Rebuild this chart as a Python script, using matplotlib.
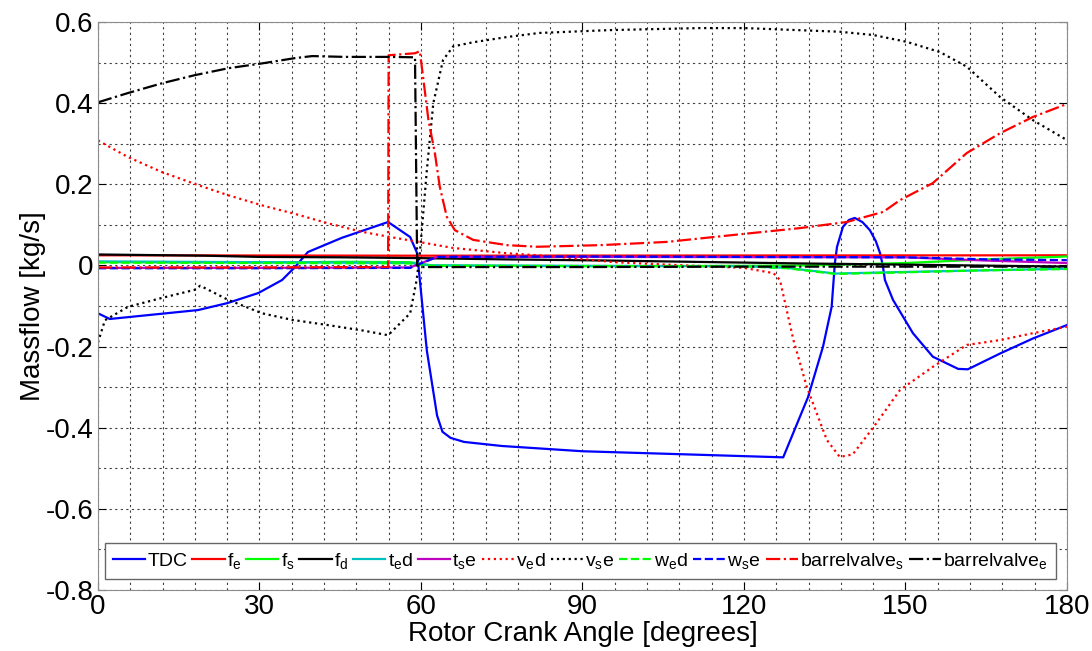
import numpy as np
import matplotlib
matplotlib.use("Agg")
import matplotlib.pyplot as plt
from matplotlib.ticker import MultipleLocator, FuncFormatter

plt.rcParams['font.family'] = ['Liberation Sans', 'DejaVu Sans']
plt.rcParams['mathtext.fontset'] = 'custom'
plt.rcParams['mathtext.rm'] = 'Liberation Sans'
plt.rcParams['mathtext.default'] = 'regular'

# --- data (crank angle in degrees, massflow in kg/s) ---
tdc_x = [0, 2.2, 18.6, 24, 29.8, 34.2, 36.6, 39, 45.3, 53.9, 58, 59.3, 61.1, 63.0, 64.0,
         65.5, 68, 75, 90, 110, 127.3, 131.9, 134.7, 136.3, 136.9, 137.3, 138.4, 139.5,
         140.6, 142, 143.4, 144.5, 145.3, 145.8, 146.2, 147.7, 151.4, 155.1, 159.8, 161.6,
         167.6, 173.7, 180]
tdc_y = [-0.118, -0.132, -0.11, -0.093, -0.068, -0.036, -0.004, 0.033, 0.068, 0.107, 0.07,
         0.03, -0.21, -0.37, -0.41, -0.425, -0.435, -0.445, -0.458, -0.466, -0.473, -0.325,
         -0.2, -0.102, 0.006, 0.046, 0.095, 0.112, 0.117, 0.107, 0.087, 0.06, 0.03, 0.0,
         -0.036, -0.085, -0.167, -0.225, -0.255, -0.256, -0.217, -0.18, -0.147]

fe_x = [0, 60, 180]
fe_y = [0.025, 0.024, 0.025]

fs_x = [0, 30, 46, 58, 62, 90, 120, 132, 150, 165, 180]
fs_y = [0.008, 0.007, 0.009, 0.008, 0.0, -0.002, -0.001, 0.0, 0.006, 0.015, 0.022]

fd_x = [0, 20, 30, 45, 60, 75, 95, 110, 130, 150, 180]
fd_y = [0.027, 0.024, 0.021, 0.02, 0.018, 0.015, 0.012, 0.009, 0.005, 0.002, -0.003]

ted_x = [0, 30, 58, 62, 120, 128, 137, 150, 165, 180]
ted_y = [0.01, 0.008, 0.006, 0.0, -0.002, -0.006, -0.02, -0.016, -0.012, -0.008]

tse_x = [0, 30, 58, 63, 90, 150, 165, 180]
tse_y = [-0.006, -0.006, -0.005, 0.021, 0.021, 0.02, 0.012, 0.006]

ved_x = [0, 5.6, 11.9, 18.6, 24.2, 30.5, 36.6, 42.7, 49, 53.9, 61.3, 66, 76, 85, 96, 109,
         120, 125.5, 126.7, 129.2, 131.7, 135.4, 137.8, 140.2, 144, 149, 155.1, 161.4,
         167.6, 173.7, 180]
ved_y = [0.308, 0.267, 0.23, 0.198, 0.173, 0.148, 0.127, 0.104, 0.083, 0.071, 0.054, 0.043,
         0.03, 0.022, 0.008, 0.0, -0.006, -0.019, -0.036, -0.184, -0.3, -0.43, -0.472,
         -0.466, -0.4, -0.307, -0.25, -0.196, -0.184, -0.167, -0.151]

vse_x = [0, 1.3, 5.6, 11.9, 18, 19, 24.2, 30.5, 36, 42.7, 49, 53.9, 58, 59.2, 59.8, 61.1,
         62.3, 64.1, 66, 69.7, 76, 82, 95, 111.8, 120.2, 137.8, 144, 150.3, 156.4, 161.4,
         167.6, 173.7, 180]
vse_y = [-0.19, -0.135, -0.102, -0.08, -0.06, -0.05, -0.085, -0.118, -0.134, -0.147, -0.16,
         -0.172, -0.118, -0.036, 0.03, 0.235, 0.4, 0.506, 0.54, 0.55, 0.563, 0.573, 0.58,
         0.585, 0.585, 0.576, 0.568, 0.551, 0.526, 0.49, 0.415, 0.358, 0.309]

wed_x = [0, 30, 58, 62, 120, 128, 137, 150, 165, 180]
wed_y = [0.007, 0.006, 0.005, -0.001, -0.002, -0.007, -0.021, -0.017, -0.012, -0.009]

wse_x = [0, 30, 58, 63, 90, 150, 165, 180]
wse_y = [-0.007, -0.007, -0.006, 0.021, 0.022, 0.02, 0.015, 0.013]

bvs_x = [0, 30, 53.9, 54.0, 58.9, 59.8, 61.4, 62.6, 63.5, 64.8, 66.3, 69.7, 76, 81.6, 93.3,
         105.7, 118, 130.4, 139.1, 145.9, 149, 155.1, 161.4, 167.6, 173.7, 180]
bvs_y = [-0.005, -0.005, -0.004, 0.518, 0.523, 0.528, 0.358, 0.276, 0.194, 0.12, 0.087,
         0.063, 0.05, 0.046, 0.05, 0.058, 0.075, 0.092, 0.107, 0.132, 0.161, 0.203, 0.277,
         0.326, 0.366, 0.398]

bve_x = [0, 5.6, 11.9, 18, 24.2, 30.5, 36.6, 39.8, 45.9, 53.9, 58.9, 59.3, 60, 90, 120, 180]
bve_y = [0.402, 0.425, 0.449, 0.469, 0.486, 0.498, 0.511, 0.516, 0.514, 0.514, 0.513, 0.0,
         -0.004, -0.004, -0.003, -0.003]

series = [
    (tdc_x, tdc_y, 'TDC', 'b', '-'),
    (fe_x, fe_y, 'f$_e$', 'r', '-'),
    (fs_x, fs_y, 'f$_s$', '#00ff00', '-'),
    (fd_x, fd_y, 'f$_d$', 'k', '-'),
    (ted_x, ted_y, 't$_e$d', 'c', '-'),
    (tse_x, tse_y, 't$_s$e', 'm', '-'),
    (ved_x, ved_y, 'v$_e$d', 'r', ':'),
    (vse_x, vse_y, 'v$_s$e', 'k', ':'),
    (wed_x, wed_y, 'w$_e$d', '#00ff00', '--'),
    (wse_x, wse_y, 'w$_s$e', 'b', '--'),
    (bvs_x, bvs_y, 'barrelvalve$_s$', 'r', '-.'),
    (bve_x, bve_y, 'barrelvalve$_e$', 'k', '-.'),
]

fig = plt.figure(figsize=(10.92, 6.51), dpi=100)
ax = fig.add_axes([0.0897, 0.0937, 0.8873, 0.8725])

for xs, ys, lab, col, ls in series:
    ax.plot(xs, ys, color=col, linestyle=ls, linewidth=1.6, label=lab)

ax.set_xlim(0, 180)
ax.set_ylim(-0.8, 0.6)
ax.xaxis.set_major_locator(MultipleLocator(30))
ax.xaxis.set_minor_locator(MultipleLocator(6))
ax.yaxis.set_major_locator(MultipleLocator(0.2))
ax.yaxis.set_minor_locator(MultipleLocator(0.1))
ax.yaxis.set_major_formatter(FuncFormatter(lambda v, p: '%g' % round(v, 2)))
ax.grid(True, which='both', linestyle=(0, (2, 3)), linewidth=0.8, color='0.25')
ax.tick_params(which='both', direction='in', top=True, right=True, labelsize=20, pad=3)
ax.tick_params(which='major', length=6)
ax.tick_params(which='minor', length=0)
for sp in ax.spines.values():
    sp.set_color('0.55')

ax.set_xlabel('Rotor Crank Angle [degrees]', fontsize=20, labelpad=0.5)
ax.set_ylabel('Massflow [kg/s]', fontsize=20, labelpad=0)

leg = ax.legend(loc='lower center', bbox_to_anchor=(0.498, 0.003), ncol=12, fontsize=14,
                handlelength=1.65, handletextpad=0.12, columnspacing=0.25,
                fancybox=False, framealpha=1, edgecolor='0.4', borderpad=0.4)
leg.get_frame().set_linewidth(1.0)

fig.savefig('out.png', dpi=100)
